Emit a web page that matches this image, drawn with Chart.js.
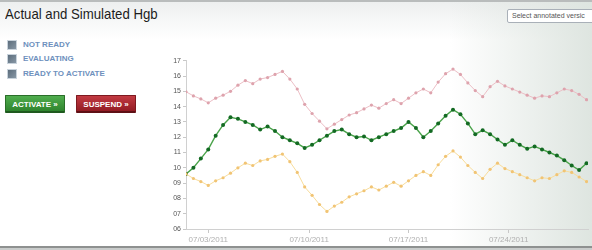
<!DOCTYPE html>
<html>
<head>
<meta charset="utf-8">
<script src="https://cdn.jsdelivr.net/npm/chart.js@4/dist/chart.umd.min.js"></script>
<style>
  html, body { margin: 0; padding: 0; }
  body {
    width: 592px; height: 250px; overflow: hidden; position: relative;
    font-family: "Liberation Sans", Arial, sans-serif;
    background: linear-gradient(to bottom, #eceeee 0, #f7f8f8 22px, #ffffff 40px);
  }
  #shade {
    position: absolute; left: 450px; top: 0; width: 142px; height: 246px;
    background: linear-gradient(to right, rgba(225,231,227,0) 0, rgba(222,229,224,1) 100%);
  }
  #topline { position: absolute; left: 0; top: 0; width: 592px; height: 2px; background: #b9bcbc; }
  #bottom { position: absolute; left: 0; top: 246px; width: 592px; height: 4px;
    background: linear-gradient(to bottom, #8e9190 0, #8e9190 2px, #c9cccb 2px); }
  h1 {
    position: absolute; left: 5px; top: 5px; margin: 0;
    font-size: 15px; font-weight: normal; color: #1c1c1c;
    transform: scaleX(0.88); transform-origin: left top; white-space: nowrap;
  }
  #select {
    position: absolute; left: 507px; top: 9px; width: 100px; height: 12px;
    border: 1px solid #a9b0b8; border-radius: 2px; background: #fff;
    font-size: 7px; line-height: 12px; color: #555; padding-left: 4px; white-space: nowrap;
  }
  .leg { position: absolute; left: 7px; height: 10px; white-space: nowrap; }
  .leg i {
    position: absolute; left: 0; top: 0; width: 8px; height: 8px;
    border: 1px solid #c9d3dc;
    background: linear-gradient(135deg, #5c6d7c 0, #8797a5 100%);
  }
  .leg span {
    position: absolute; left: 16px; top: 0px; font-size: 8px; font-weight: bold;
    color: #6e90bd; line-height: 10px;
  }
  .btn {
    position: absolute; top: 95px; height: 18px; width: 60px;
    color: #fff; font-size: 8px; font-weight: bold; line-height: 17px; text-align: center;
    box-sizing: border-box; border-radius: 1px;
  }
  #act { left: 5px; background: linear-gradient(#50ad4e, #2f842e); border: 1px solid #2a6e29; border-bottom: 2px solid #1f5a1f; }
  #sus { left: 76px; background: linear-gradient(#c23a42, #931c24); border: 1px solid #7d1a20; border-bottom: 2px solid #5e1015; }
  #wrap { position: absolute; left: 150px; top: 50px; width: 442px; height: 200px; }
</style>
</head>
<body>
<div id="shade"></div>
<div id="topline"></div>
<h1>Actual and Simulated Hgb</h1>
<div id="select">Select annotated versic</div>
<div class="leg" style="top:40px"><i></i><span>NOT READY</span></div>
<div class="leg" style="top:54px"><i></i><span>EVALUATING</span></div>
<div class="leg" style="top:69px"><i></i><span>READY TO ACTIVATE</span></div>
<div class="btn" id="act">ACTIVATE &raquo;</div>
<div class="btn" id="sus">SUSPEND &raquo;</div>
<div id="wrap"><canvas id="hgbChart" width="442" height="200"></canvas></div>
<div id="bottom"></div>
<script>
// Hgb readings, one per sample (index along x)
const actualHgb = [9.6, 10.0, 10.6, 11.2, 12.1, 12.8, 13.3, 13.2, 13.0, 12.8,
  12.5, 12.7, 12.4, 12.0, 11.8, 11.6, 11.3, 11.5, 11.8, 12.1,
  12.4, 12.5, 12.2, 12.0, 12.05, 11.8, 12.0, 12.2, 12.4, 12.6,
  13.0, 12.6, 12.0, 12.4, 12.9, 13.4, 13.8, 13.5, 12.9, 12.2,
  12.45, 12.2, 11.85, 11.5, 11.8, 11.5, 11.25, 11.4, 11.2, 11.0,
  10.8, 10.5, 10.15, 9.85, 10.3];
const upperHgb = [14.97, 14.7, 14.5, 14.25, 14.55, 14.75, 15.0, 15.4, 15.7, 15.5,
  15.8, 15.9, 16.1, 16.3, 15.8, 15.15, 14.15, 13.55, 13.05, 12.55,
  12.85, 13.15, 13.45, 13.6, 13.85, 14.1, 13.9, 14.2, 14.45, 14.2,
  14.55, 14.9, 15.15, 14.9, 15.6, 16.15, 16.45, 16.1, 15.55, 15.05,
  14.65, 15.3, 15.65, 15.35, 15.15, 14.95, 14.75, 14.55, 14.7, 14.65,
  14.9, 15.15, 15.05, 14.8, 14.45];
const lowerHgb = [9.6, 9.3, 9.1, 8.85, 9.15, 9.35, 9.65, 10.0, 10.3, 10.15,
  10.45, 10.55, 10.75, 10.9, 10.4, 9.7, 8.75, 8.2, 7.6, 7.15,
  7.5, 7.75, 8.1, 8.3, 8.5, 8.75, 8.55, 8.8, 9.05, 8.8,
  9.15, 9.5, 9.75, 9.5, 10.2, 10.75, 11.1, 10.7, 10.15, 9.7,
  9.3, 9.9, 10.3, 9.95, 9.75, 9.55, 9.35, 9.15, 9.35, 9.3,
  9.55, 9.8, 9.7, 9.4, 9.1];
const tickLabels = ['07/03/2011', '07/10/2011', '07/17/2011', '07/24/2011'];
const tickAt = [3, 16.6, 30, 43.5];

const toPoints = arr => arr.map((v, i) => ({ x: i, y: v }));

new Chart(document.getElementById('hgbChart').getContext('2d'), {
  type: 'line',
  data: {
    datasets: [
      {
        label: 'Upper',
        data: toPoints(upperHgb),
        borderColor: '#ecbfc6',
        borderWidth: 1,
        pointRadius: 1.6,
        pointBorderWidth: 0,
        pointBackgroundColor: '#dea3ad',
        tension: 0
      },
      {
        label: 'Lower',
        data: toPoints(lowerHgb),
        borderColor: '#f8dd9c',
        borderWidth: 1,
        pointRadius: 1.6,
        pointBorderWidth: 0,
        pointBackgroundColor: '#f1c474',
        tension: 0
      },
      {
        label: 'Actual',
        data: toPoints(actualHgb),
        borderColor: '#4aa34a',
        borderWidth: 1.4,
        pointRadius: 2,
        pointBorderWidth: 0,
        pointBackgroundColor: '#136a23',
        tension: 0
      }
    ]
  },
  options: {
    responsive: false,
    animation: false,
    devicePixelRatio: 1,
    layout: { padding: { top: 10.7, right: 2, bottom: 0, left: 0 } },
    plugins: { legend: { display: false }, tooltip: { enabled: false } },
    scales: {
      x: {
        type: 'linear',
        min: 0,
        max: 54.2,
        afterBuildTicks: scale => { scale.ticks = tickAt.map(v => ({ value: v })); },
        afterFit: scale => { scale.height = 21; },
        grid: { drawOnChartArea: false, tickLength: 4, color: '#c8c8c8' },
        border: { color: '#d0d0d0' },
        ticks: {
          autoSkip: false, maxRotation: 0, padding: 2,
          color: '#b0b0b0',
          font: { family: 'Liberation Sans', size: 8 },
          callback: (value, index) => tickLabels[index]
        }
      },
      y: {
        min: 6,
        max: 17,
        afterFit: scale => { scale.width = 36; },
        grid: { drawOnChartArea: false, tickLength: 3, color: '#c8c8c8' },
        border: { color: '#d0d0d0' },
        ticks: {
          stepSize: 1, padding: 2,
          color: '#555',
          font: { family: 'Liberation Sans', size: 7 },
          callback: v => (v < 10 ? '0' + v : '' + v)
        }
      }
    }
  }
});
</script>
</body>
</html>
